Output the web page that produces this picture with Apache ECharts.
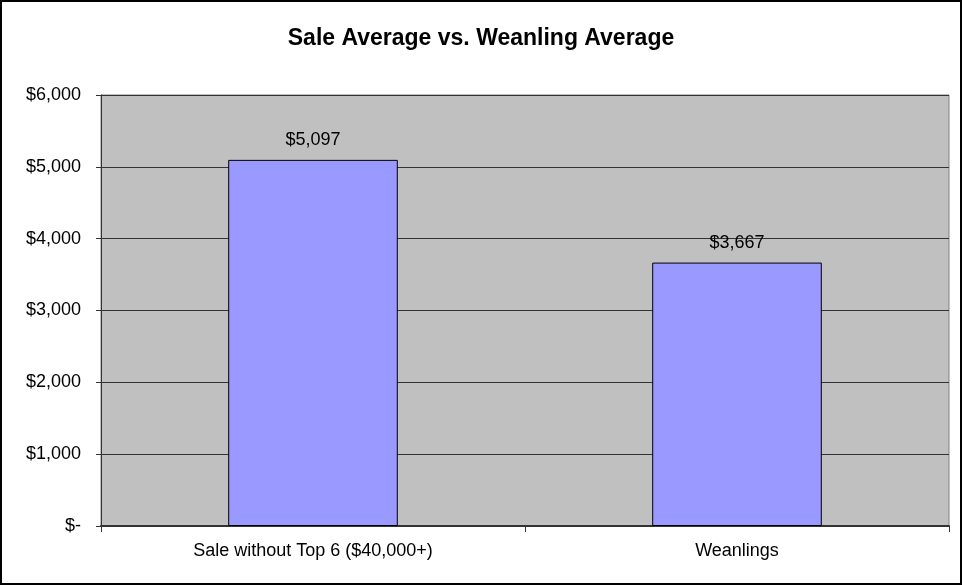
<html>
    <head>
        <meta charset="utf-8">
        <script src="https://cdn.jsdelivr.net/npm/echarts@6/dist/echarts.min.js"></script>
    </head>
    <body>
        <style>
            html, body, #main {
                width: 100%;
                height: 100%;
                margin: 0;
                background: #fff;
            }
        </style>
        <div id="main"></div>
        <script>

        var categories = ['Sale without Top 6 ($40,000+)', 'Weanlings'];
        var averages = [5097, 3667];
        var yTicks = [0, 1000, 2000, 3000, 4000, 5000, 6000];

        function money(v) {
            if (v === 0) {
                return '$-';
            }
            return '$' + v.toLocaleString('en-US');
        }

        var chart = echarts.init(document.getElementById('main'));

        chart.setOption({
            animation: false,
            textStyle: {
                fontFamily: 'Liberation Sans, Arial, sans-serif'
            },
            title: {
                text: 'Sale Average vs. Weanling Average',
                left: 'center',
                top: 22,
                textStyle: {
                    fontSize: 23,
                    fontWeight: 'bold',
                    color: '#000'
                }
            },
            graphic: [{
                type: 'rect',
                shape: { x: 1, y: 1, width: 960, height: 583 },
                style: { fill: null, stroke: '#000', lineWidth: 2 },
                silent: true
            }],
            grid: {
                left: 101,
                right: 13,
                top: 95,
                bottom: 59,
                show: true,
                backgroundColor: '#c0c0c0',
                borderColor: '#808080',
                borderWidth: 1
            },
            xAxis: {
                type: 'category',
                data: categories,
                axisLine: { lineStyle: { color: '#333', width: 2 } },
                axisTick: { show: true, length: 6, lineStyle: { color: '#333' } },
                axisLabel: { color: '#000', fontSize: 18, margin: 16 }
            },
            yAxis: {
                type: 'value',
                min: yTicks[0],
                max: yTicks[yTicks.length - 1],
                interval: 1000,
                axisLine: { show: true, lineStyle: { color: '#333' } },
                axisTick: { show: true, length: 5, lineStyle: { color: '#333' } },
                splitLine: { lineStyle: { color: '#333', width: 1 } },
                axisLabel: {
                    color: '#000',
                    fontSize: 18,
                    margin: 20,
                    formatter: money
                }
            },
            series: [
                {
                    type: 'bar',
                    data: averages,
                    barCategoryGap: '60%',
                    itemStyle: {
                        color: '#9999ff',
                        borderColor: '#000',
                        borderWidth: 1
                    },
                    label: {
                        show: true,
                        position: 'top',
                        distance: 11,
                        color: '#000',
                        fontSize: 18,
                        formatter: function (p) { return money(p.value); }
                    }
                }
            ]
        });

        </script>
    </body>
</html>
